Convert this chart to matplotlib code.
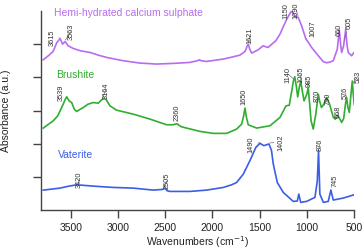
import numpy as np
import matplotlib
matplotlib.use("Agg")
import matplotlib.pyplot as plt

plt.rcParams['font.family'] = ['Liberation Sans', 'DejaVu Sans']

# ---- spectra (wavenumber, absorbance a.u.) ----
hemi_x = [3794, 3740, 3690, 3650, 3615, 3590, 3563, 3530, 3476, 3400, 3299, 3200, 3122,
          2946, 2769, 2592, 2415, 2239, 2160, 2140, 2120, 2062, 1886, 1780, 1709, 1656,
          1635, 1621, 1605, 1585, 1515, 1465, 1412, 1330, 1285, 1214, 1180, 1161, 1126,
          1090, 1055, 1009, 990, 949, 878, 825, 790, 755, 720, 677, 656, 640, 631, 610,
          588, 575, 561, 525, 500]
hemi_y = [4.53, 4.65, 4.78, 5.05, 5.17, 5.00, 5.08, 4.95, 4.87, 4.80, 4.75, 4.66, 4.60,
          4.50, 4.43, 4.40, 4.42, 4.45, 4.50, 4.53, 4.50, 4.48, 4.55, 4.62, 4.67, 4.78,
          4.92, 5.00, 4.85, 4.73, 4.83, 4.95, 4.90, 5.10, 5.30, 5.75, 5.92, 6.00, 5.85,
          5.80, 5.55, 5.15, 5.08, 4.90, 4.65, 4.47, 4.44, 4.46, 4.50, 4.85, 5.43, 4.95,
          4.75, 4.95, 5.45, 5.00, 4.75, 4.65, 4.75]

brush_x = [3794, 3688, 3640, 3599, 3560, 3546, 3520, 3493, 3465, 3440, 3400, 3370, 3320,
           3264, 3211, 3180, 3158, 3130, 3087, 3016, 2840, 2663, 2486, 2420, 2380, 2330,
           2274, 2133, 1991, 1850, 1744, 1691, 1670, 1656, 1640, 1621, 1532, 1391, 1285,
           1221, 1186, 1160, 1140, 1128, 1110, 1097, 1080, 1065, 1048, 1030, 1000, 985,
           970, 955, 932, 905, 878, 865, 845, 820, 790, 760, 720, 700, 668, 645, 631,
           610, 590, 578, 565, 550, 535, 518, 508, 497]
brush_y = [2.47, 2.69, 2.84, 3.09, 3.34, 3.41, 3.29, 3.24, 3.04, 2.97, 3.04, 3.09, 3.19,
           3.24, 3.22, 3.31, 3.36, 3.34, 3.14, 3.01, 2.89, 2.74, 2.57, 2.57, 2.60, 2.51,
           2.47, 2.37, 2.31, 2.31, 2.44, 2.59, 2.84, 3.07, 2.79, 2.57, 2.47, 2.54, 2.79,
           3.14, 3.16, 3.59, 3.92, 4.02, 3.70, 3.41, 3.70, 3.88, 3.59, 3.29, 3.49, 3.70,
           3.19, 2.69, 2.44, 2.89, 3.49, 3.29, 3.09, 3.19, 3.39, 3.20, 2.80, 2.74, 2.84,
           2.72, 2.64, 2.75, 3.20, 3.39, 3.10, 2.94, 3.40, 3.89, 3.50, 3.18]

vat_x = [3794, 3617, 3520, 3440, 3264, 3052, 2840, 2628, 2530, 2505, 2480, 2451, 2239,
         2062, 1886, 1797, 1744, 1674, 1603, 1540, 1497, 1455, 1402, 1375, 1356, 1313,
         1250, 1144, 1101, 1085, 1065, 1002, 914, 889, 876, 862, 825, 773, 745, 720,
         614, 497]
vat_y = [0.60, 0.66, 0.72, 0.76, 0.72, 0.68, 0.66, 0.60, 0.62, 0.66, 0.58, 0.56, 0.56,
         0.60, 0.68, 0.76, 0.83, 1.08, 1.49, 1.89, 2.01, 1.94, 1.99, 1.80, 1.39, 0.83,
         0.53, 0.26, 0.27, 0.48, 0.23, 0.26, 0.38, 0.88, 1.79, 0.48, 0.23, 0.26, 0.60,
         0.30, 0.36, 0.46]

# peak labels
hemi_peaks = [3615, 3563, 1621, 1150, 1090, 1007, 660, 605]
brush_peaks = [3539, 3164, 2360, 1650, 1140, 1065, 985, 870, 790, 668, 576, 523]
vat_peaks = [3420, 2505, 1490, 1402, 876, 745]

# where the rotated peak labels sit (x, y)
hemi_lbl_pos = [(3701, 5.21), (3500, 5.39), (1603, 5.27), (1221, 6.02), (1115, 6.05),
                (935, 5.48), (659, 5.45), (553, 5.66)]
brush_lbl_pos = [(3606, 3.55), (3129, 3.64), (2376, 2.95), (1666, 3.43), (1200, 4.10),
                 (1062, 4.10), (977, 3.92), (893, 3.46), (776, 3.37), (670, 2.98),
                 (596, 3.55), (458, 4.04)]
vat_lbl_pos = [(3415, 0.93), (2482, 0.90), (1592, 1.99), (1274, 2.05), (861, 1.99),
               (702, 0.90)]

purple = '#b86cf0'
green = '#2fae2f'
blue = '#3a5fe6'

fig = plt.figure(figsize=(3.64, 2.51), dpi=100)
ax = fig.add_axes([41/364, 1-211/251, 313/364, 199/251])

series = [
    (hemi_x, hemi_y, purple, hemi_peaks, hemi_lbl_pos),
    (brush_x, brush_y, green, brush_peaks, brush_lbl_pos),
    (vat_x, vat_y, blue, vat_peaks, vat_lbl_pos),
]
for xs, ys, col, peaks, pos in series:
    ax.plot(xs, ys, color=col, lw=1.2)
    xa = np.array(xs)[::-1]
    ya = np.array(ys)[::-1]
    for p, (tx, ty) in zip(peaks, pos):
        py = np.interp(p, xa, ya)
        ax.annotate(str(p), xy=(p, py + 0.03), xytext=(tx, ty), textcoords='data',
                    rotation=90, ha='center', va='center', fontsize=5.3, color='#333333',
                    annotation_clip=False,
                    arrowprops=dict(arrowstyle='-', color='#777777', lw=0.5,
                                    shrinkA=0.5, shrinkB=0.5))

ax.text(3680, 5.98, 'Hemi-hydrated calcium sulphate', color=purple, fontsize=7.5,
        ha='left', va='center')
ax.text(3659, 4.10, 'Brushite', color=green, fontsize=7.5, ha='left', va='center')
ax.text(3638, 1.69, 'Vaterite', color=blue, fontsize=7.5, ha='left', va='center')

ax.set_xlim(3818, 500)
ax.set_ylim(0, 6)
ax.set_xticks([3500, 3000, 2500, 2000, 1500, 1000, 500])
ax.set_yticks([1, 2, 3, 4, 5])
ax.set_yticklabels([])
for s in ['top', 'right']:
    ax.spines[s].set_visible(False)
for s in ['left', 'bottom']:
    ax.spines[s].set_color('#444444')
    ax.spines[s].set_linewidth(1.0)
ax.tick_params(axis='both', direction='out', length=5.5, width=1.0, color='#444444',
               labelsize=7.5, labelcolor='#222222', pad=3)

ax.set_xlabel('Wavenumbers (cm$^{-1}$)', fontsize=7.5, color='#222222', va='top')
ax.xaxis.set_label_coords(0.5, -0.115)
fig.text(6/364, 1-111/251, 'Absorbance (a.u.)', rotation=90, ha='center', va='center',
         fontsize=7.5, color='#222222')

fig.savefig('out.png', dpi=100)
